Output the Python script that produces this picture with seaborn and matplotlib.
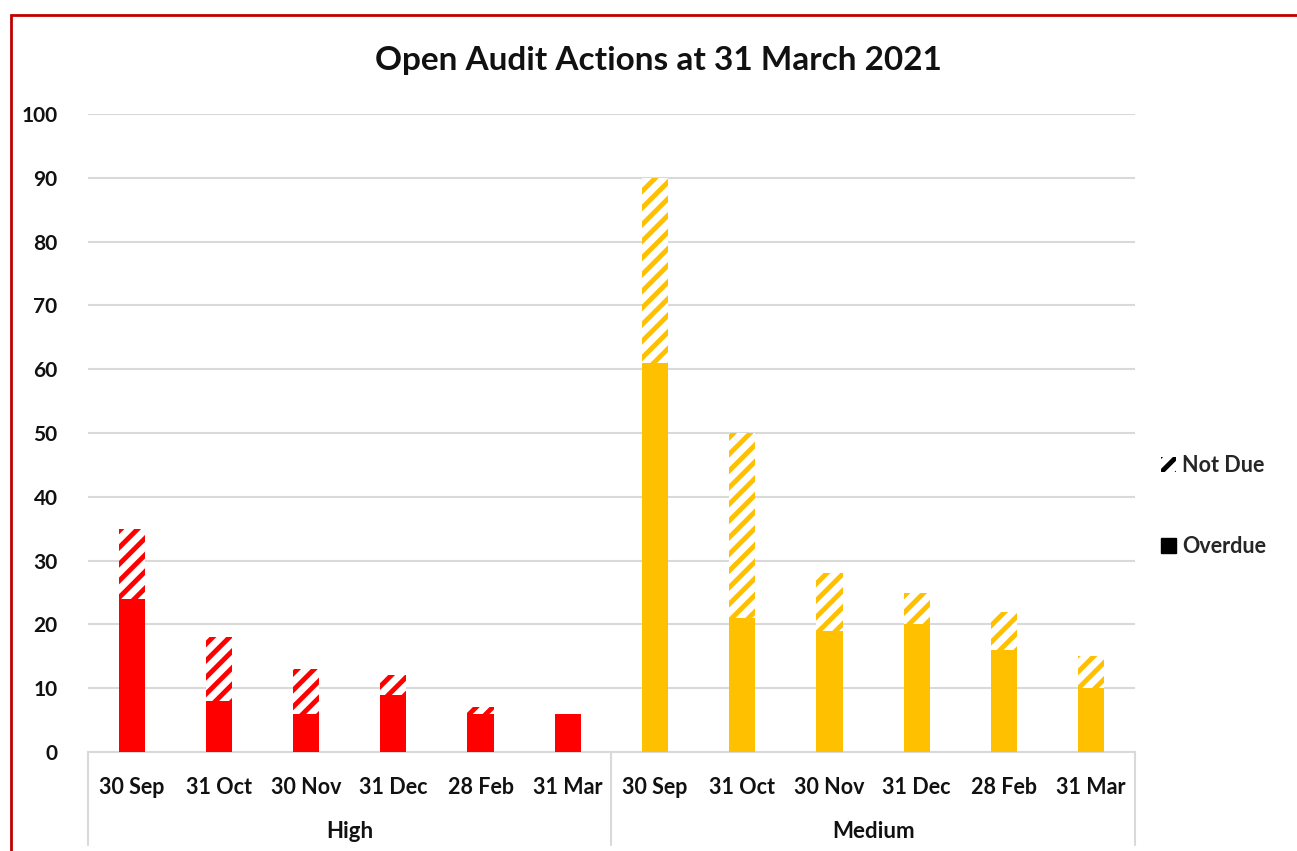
import numpy as np
import pandas as pd
import matplotlib.pyplot as plt
from matplotlib.patches import Patch, Rectangle
import seaborn as sns

sns.set_theme(style="white")
plt.rcParams["font.family"] = ["Lato", "DejaVu Sans"]
plt.rcParams["hatch.linewidth"] = 3.5

# data
dates = ["30 Sep", "31 Oct", "30 Nov", "31 Dec", "28 Feb", "31 Mar"]
groups = ["High", "Medium"]
high_overdue = [24, 8, 6, 9, 6, 6]
high_notdue = [11, 10, 7, 3, 1, 0]
med_overdue = [61, 21, 19, 20, 16, 10]
med_notdue = [29, 29, 9, 5, 6, 5]

colors = {"High": "#FF0000", "Medium": "#FFC000"}

df = pd.DataFrame({
    "group": ["High"] * 6 + ["Medium"] * 6,
    "date": dates * 2,
    "overdue": high_overdue + med_overdue,
    "notdue": high_notdue + med_notdue,
})
df["key"] = df["group"] + " " + df["date"]
df["total"] = df["overdue"] + df["notdue"]
order = list(df["key"])

fig = plt.figure(figsize=(12.97, 8.51), dpi=100)
ax = fig.add_axes([0.0679, 0.1163, 0.807, 0.7497])

# hatched totals first, solid overdue on top
for g in groups:
    sub = df[df["group"] == g]
    sns.barplot(data=sub, x="key", y="total", order=order, color="white",
                width=0.3, ax=ax, edgecolor=colors[g], linewidth=0,
                hatch="//", zorder=2, saturation=1)
for bar in ax.patches:
    bar.set_linewidth(0)
sns.barplot(data=df, x="key", y="overdue", order=order, hue="group",
            palette=colors, dodge=False, width=0.3, ax=ax, linewidth=0,
            legend=False, zorder=3, saturation=1)

ax.set_xlim(-0.5, 11.5)
ax.set_ylim(0, 100)
ax.set_yticks(np.arange(0, 101, 10))
ax.yaxis.grid(True, color="#D9D9D9", linewidth=1.5, zorder=0)
ax.set_axisbelow(True)
for s in ["top", "right", "left"]:
    ax.spines[s].set_visible(False)
ax.spines["bottom"].set_color("#D9D9D9")
ax.spines["bottom"].set_linewidth(1.5)
ax.set_xlabel("")
ax.set_ylabel("")

ax.set_xticks(range(12))
ax.set_xticklabels(dates * 2, fontsize=15.5, fontweight="bold", color="#111111")
ax.tick_params(axis="x", length=0, pad=18)
ax.tick_params(axis="y", length=0, pad=22, labelsize=15)
for t in ax.get_yticklabels():
    t.set_fontweight("bold")
    t.set_color("#111111")

# multi-level category separators and group labels
tr = ax.get_xaxis_transform()
for xs in [-0.5, 5.5, 11.5]:
    ax.plot([xs, xs], [0, -0.146], transform=tr, color="#D9D9D9",
            linewidth=1.5, clip_on=False)
for i, g in enumerate(groups):
    ax.text(2.5 + 6 * i, -0.124, g, transform=tr, ha="center", va="center",
            fontsize=16, fontweight="bold", color="#111111")

fig.text(0.508, 0.929, "Open Audit Actions at 31 March 2021", ha="center",
         va="center", fontsize=24, fontweight="bold", color="#111111")

handles = [Patch(facecolor="white", edgecolor="black", hatch="//", linewidth=0),
           Patch(facecolor="black", edgecolor="black")]
leg = fig.legend(handles, ["Not Due", "Overdue"], loc="center left",
                 bbox_to_anchor=(0.88, 0.405), frameon=False,
                 prop={"size": 15.5, "weight": "bold"}, labelspacing=2.8,
                 handlelength=0.7, handleheight=0.7, handletextpad=0.3)

fig.add_artist(Rectangle((0.0085, -0.05), 1.1, 1.05 - 15 / 851,
                         transform=fig.transFigure, fill=False,
                         edgecolor="#C00000", linewidth=2))

fig.savefig("out.png", dpi=100)
